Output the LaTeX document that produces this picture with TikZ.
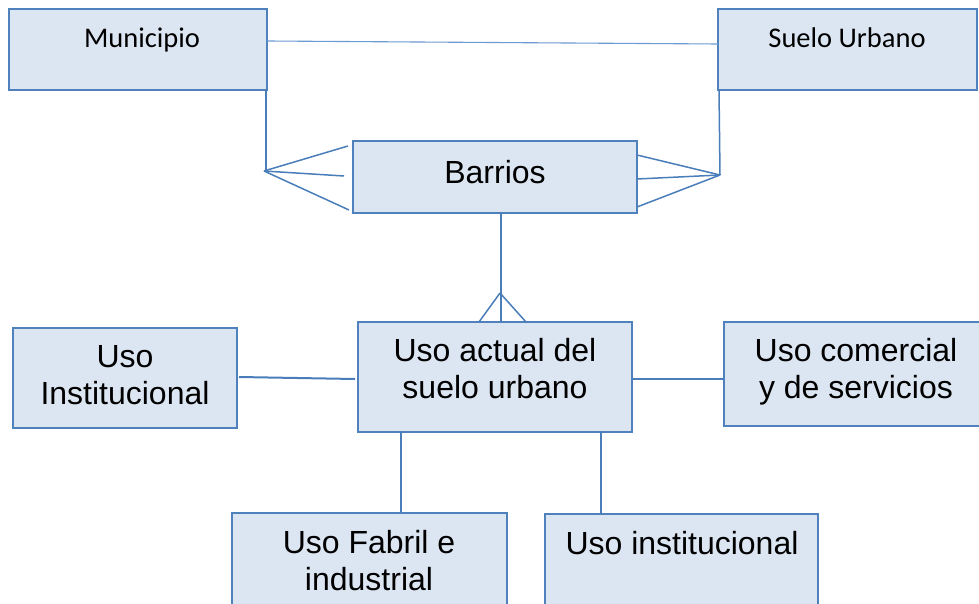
\documentclass[tikz,border=0pt]{standalone}
\usepackage{fontspec}
\setmainfont{Liberation Sans}
\newfontfamily\calib{Carlito}
\definecolor{boxline}{HTML}{4F81BD}
\definecolor{boxfill}{HTML}{DCE6F2}
\definecolor{conn}{HTML}{4A7EBB}
\definecolor{thinconn}{HTML}{6C9BD2}
\tikzset{
  ebox/.style={draw=boxline, fill=boxfill, line width=2pt, inner sep=0pt, outer sep=0pt, anchor=north west},
  smalltxt/.style={font=\calib\fontsize{28.5}{34}\selectfont, inner sep=0pt, anchor=base, text=black},
  bigtxt/.style={font=\fontsize{32}{37}\selectfont, inner sep=0pt, anchor=base, text=black, align=center},
  cline/.style={draw=conn, line width=1.5pt},
}
\begin{document}
\begin{tikzpicture}[x=1pt,y=-1pt]
\fill[white] (0,0) rectangle (979,604);
\useasboundingbox (0,0) rectangle (979,604);
\clip (0,0) rectangle (979,604);

% boxes
\node[ebox, minimum width=258pt, minimum height=81pt] (mun) at (9,9) {};
\node[ebox, minimum width=259pt, minimum height=81pt] (suelo) at (718,9) {};
\node[ebox, minimum width=284pt, minimum height=72pt] (barrios) at (353,141) {};
\node[ebox, minimum width=274pt, minimum height=110pt] (actual) at (358,322) {};
\node[ebox, minimum width=224.5pt, minimum height=100pt] (inst) at (12.5,328) {};
\node[ebox, minimum width=290pt, minimum height=104pt] (comer) at (724,322) {};
\node[ebox, minimum width=275pt, minimum height=120pt] (fabril) at (232,513) {};
\node[ebox, minimum width=273pt, minimum height=120pt] (instb) at (545,514) {};

% texts (multi-line nodes: base = baseline of last line)
\node[smalltxt] (mun-t) at (142,48) {Municipio};
\node[smalltxt] (suelo-t) at (847,48) {Suelo Urbano};
\node[bigtxt] (barrios-t) at (495,183) {Barrios};
\node[bigtxt] (actual-t) at (495,398) {Uso actual del\\suelo urbano};
\node[bigtxt] (inst-t) at (125,404) {Uso\\Institucional};
\node[bigtxt] (comer-t) at (856,398) {Uso comercial\\y de servicios};
\node[bigtxt] (fabril-t) at (369,590) {Uso Fabril e\\industrial};
\node[bigtxt] (instb-t) at (682,554) {Uso institucional};

% top connector
\draw[draw=thinconn, line width=1.1pt] ([yshift=8.5pt]mun.east) -- ([yshift=5.5pt]suelo.west);

% Municipio - Barrios crow's foot
\coordinate (mf) at (264,171);
\draw[cline] ([xshift=-1pt]mun.south east) -- (266,171) -- (mf);
\draw[cline] (mf) -- ([xshift=-5pt,yshift=31pt]barrios.west);
\draw[cline] (mf) -- ([xshift=-9pt,yshift=1pt]barrios.west);
\draw[cline] (mf) -- ([xshift=-4pt,yshift=-33pt]barrios.west);

% Suelo Urbano - Barrios crow's foot
\coordinate (sf) at (720,175);
\draw[cline] ([xshift=1pt]suelo.south west) -- (sf);
\draw[cline] (sf) -- ([yshift=22pt]barrios.east);
\draw[cline] (sf) -- ([yshift=-2pt]barrios.east);
\draw[cline] (sf) -- ([yshift=-30pt]barrios.east);

% Barrios - Uso actual crow's foot
\coordinate (bf) at (500,293);
\draw[cline, line width=1.2pt] ([xshift=6pt]barrios.south) -- ([xshift=6pt]actual.north);
\draw[cline] (bf) -- ([xshift=-16pt]actual.north);
\draw[cline] (bf) -- ([xshift=31pt]actual.north);

% side connectors
\draw[cline, line width=2pt] ([xshift=2pt,yshift=1pt]inst.east) -- ([xshift=-3pt,yshift=-2pt]actual.west);
\draw[cline, line width=2.5pt] ([yshift=-2pt]actual.east) -- ([yshift=-5pt]comer.west);

% bottom connectors
\draw[cline] (actual.south -| 401,0) -- (fabril.north -| 401,0);
\draw[cline] (actual.south -| 601,0) -- (instb.north -| 601,0);
\end{tikzpicture}
\end{document}
